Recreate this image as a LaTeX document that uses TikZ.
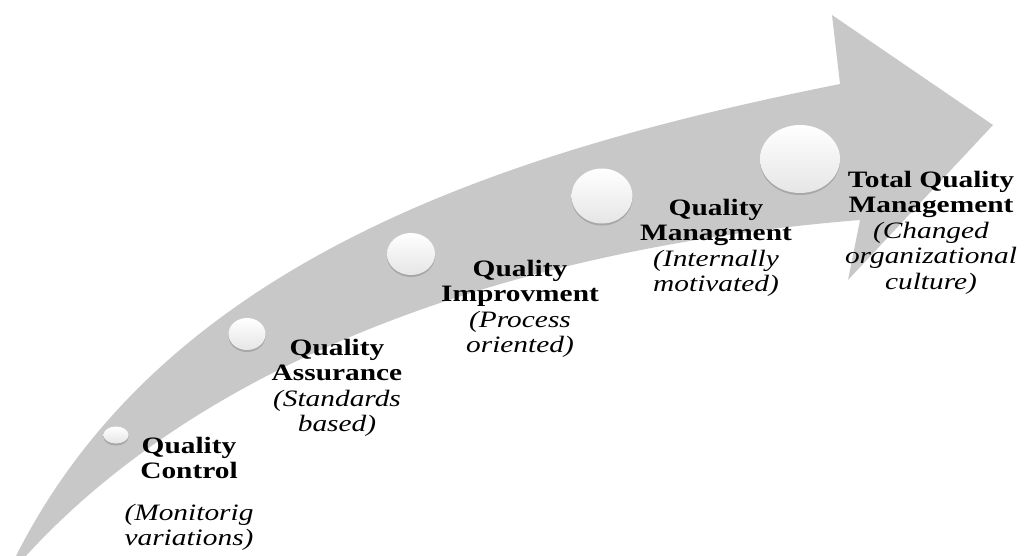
\documentclass[tikz,border=0pt]{standalone}
\usepackage{fontspec}
\usepackage{graphicx}
\setmainfont{Liberation Serif}
\usetikzlibrary{shapes.geometric,shadows}
\definecolor{arrowgray}{RGB}{200,200,200}
% wide set stage text, one line per row
\newcommand{\widetext}[1]{\scalebox{1.25}[1]{\begin{tabular}{@{}c@{}}#1\end{tabular}}}
\tikzset{
    bubble/.style={ellipse, inner sep=0, top color=white, middle color=white,
        bottom color=black!10,
        drop shadow={shadow xshift=0pt, shadow yshift=-2pt, opacity=0.45}},
    stagelabel/.style={anchor=north, inner sep=0,
        font=\fontsize{23.5}{25.5}\selectfont}
}
\begin{document}
\begin{tikzpicture}[x=1pt, y=-1pt]
        \useasboundingbox (0,0) rectangle (1026,555);
        % Arrow
        \fill[arrowgray]
            (15,558) .. controls (165,258) and (510,150) .. (840,84)
            -- (832,15) -- (993,125) -- (848,280) -- (860,220)
            .. controls (560,244) and (224,338) .. (24,558)
            -- cycle;
        % Bubbles
        \foreach \n/\x/\y/\w/\h in {1/116/435/25/17, 2/247/334/37/32,
            3/411/254/48/42, 4/602/196/61/55, 5/800/159/80/68}
        {
            \node[bubble, minimum width=\w pt, minimum height=\h pt]
                (b\n) at (\x,\y) {};
        }
        % Labels
        \node[stagelabel] (qc) at (189,435)
            {\widetext{\textbf{Quality}\\\textbf{Control}\\[16pt]\textit{(Monitorig}\\\textit{variations)}}};
        \node[stagelabel] (qa) at (337,337)
            {\widetext{\textbf{Quality}\\\textbf{Assurance}\\\textit{(Standards}\\\textit{based)}}};
        \node[stagelabel] (qi) at (520,258)
            {\widetext{\textbf{Quality}\\\textbf{Improvment}\\\textit{(Process}\\\textit{oriented)}}};
        \node[stagelabel] (qm) at (716,197)
            {\widetext{\textbf{Quality}\\\textbf{Managment}\\\textit{(Internally}\\\textit{motivated)}}};
        \node[stagelabel] (tqm) at (931,169)
            {\widetext{\textbf{Total Quality}\\\textbf{Management}\\\textit{(Changed}\\\textit{organizational}\\\textit{culture)}}};
    \end{tikzpicture}
\end{document}
